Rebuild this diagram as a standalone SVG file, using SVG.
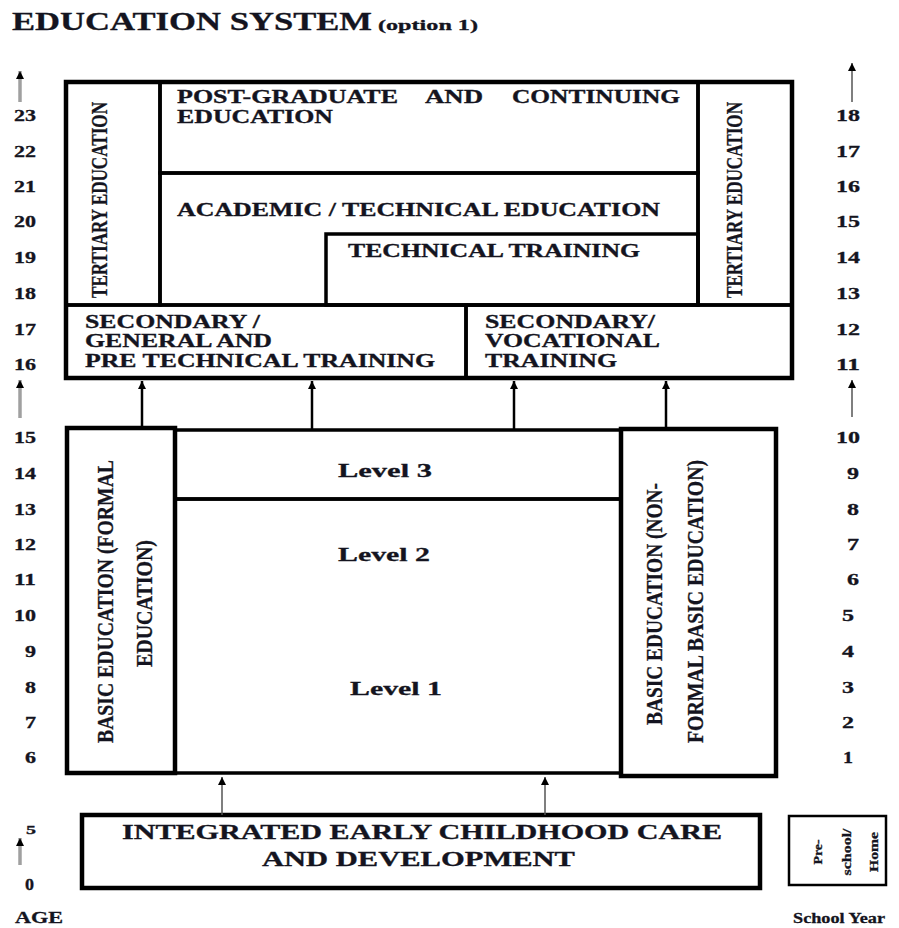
<svg xmlns="http://www.w3.org/2000/svg" width="899" height="928" viewBox="0 0 899 928">
<style>
text{font-family:"Liberation Serif","Times New Roman",serif;font-weight:bold;fill:#141420;stroke:#141420;stroke-width:0.3}
.box{fill:none;stroke:#000;stroke-width:3.5}
.frame{fill:none;stroke:#000;stroke-width:4.5}
.lbl{font-size:18px}
.vt{font-size:23px}
.ax{font-size:16px;text-anchor:end}
.lvl{font-size:19px}
.conn{stroke:#000;stroke-width:2.5;fill:none}
.thin{stroke:#555;stroke-width:1.5;fill:none}
.gray{stroke:#a0a0a0;stroke-width:3.5;fill:none}
</style>
<defs>
<marker id="ah" markerUnits="userSpaceOnUse" markerWidth="10" markerHeight="10" refX="8" refY="4" orient="auto">
<path d="M0,0 L8,4 L0,8 z" fill="#000"/>
</marker>
</defs>
<rect width="899" height="928" fill="#fff"/>

<g id="title">
<text x="12" y="30" font-size="26" textLength="360" lengthAdjust="spacingAndGlyphs">EDUCATION SYSTEM</text>
<text x="378" y="30" font-size="15" textLength="100" lengthAdjust="spacingAndGlyphs">(option 1)</text>
</g>

<g id="tertiary-left">
<rect class="box" x="66" y="82" width="94" height="223"/>
<text class="vt" transform="translate(107,200) rotate(-90)" text-anchor="middle" textLength="196" lengthAdjust="spacingAndGlyphs">TERTIARY EDUCATION</text>
</g>
<g id="postgraduate">
<rect class="box" x="160" y="82" width="538" height="91"/>
<text class="lbl" x="177" y="103" textLength="221" lengthAdjust="spacingAndGlyphs">POST-GRADUATE</text>
<text class="lbl" x="425" y="103" textLength="58" lengthAdjust="spacingAndGlyphs">AND</text>
<text class="lbl" x="512" y="103" textLength="168" lengthAdjust="spacingAndGlyphs">CONTINUING</text>
<text class="lbl" x="177" y="123" textLength="156" lengthAdjust="spacingAndGlyphs">EDUCATION</text>
</g>
<g id="academic">
<rect class="box" x="160" y="173" width="538" height="132"/>
<text class="lbl" x="177" y="216" textLength="483" lengthAdjust="spacingAndGlyphs">ACADEMIC / TECHNICAL EDUCATION</text>
</g>
<g id="technical-training">
<rect class="box" x="326" y="234" width="372" height="71" fill="#fff"/>
<text class="lbl" x="348" y="257" textLength="292" lengthAdjust="spacingAndGlyphs">TECHNICAL TRAINING</text>
</g>
<g id="tertiary-right">
<rect class="box" x="698" y="82" width="94" height="223"/>
<text class="vt" transform="translate(742,200) rotate(-90)" text-anchor="middle" textLength="196" lengthAdjust="spacingAndGlyphs">TERTIARY EDUCATION</text>
</g>
<g id="secondary-general">
<rect class="box" x="66" y="305" width="400" height="73"/>
<text class="lbl" x="85" y="328" textLength="175" lengthAdjust="spacingAndGlyphs">SECONDARY /</text>
<text class="lbl" x="85" y="347" textLength="187" lengthAdjust="spacingAndGlyphs">GENERAL AND</text>
<text class="lbl" x="85" y="367" textLength="350" lengthAdjust="spacingAndGlyphs">PRE TECHNICAL TRAINING</text>
</g>
<g id="secondary-vocational">
<rect class="box" x="466" y="305" width="326" height="73"/>
<text class="lbl" x="485" y="328" textLength="170" lengthAdjust="spacingAndGlyphs">SECONDARY/</text>
<text class="lbl" x="485" y="347" textLength="175" lengthAdjust="spacingAndGlyphs">VOCATIONAL</text>
<text class="lbl" x="485" y="367" textLength="132" lengthAdjust="spacingAndGlyphs">TRAINING</text>
</g>
<rect class="frame" x="66" y="82" width="726" height="296"/>

<g id="basic-formal">
<rect class="frame" x="67" y="428" width="108" height="345"/>
<text class="vt" transform="translate(113,601.5) rotate(-90)" text-anchor="middle" textLength="283" lengthAdjust="spacingAndGlyphs">BASIC EDUCATION (FORMAL</text>
<text class="vt" transform="translate(152,603.5) rotate(-90)" text-anchor="middle" textLength="127" lengthAdjust="spacingAndGlyphs">EDUCATION)</text>
</g>
<g id="level-3">
<rect class="box" x="175" y="430" width="446" height="69"/>
<text class="lvl" x="338" y="477" textLength="94" lengthAdjust="spacingAndGlyphs">Level 3</text>
</g>
<g id="level-1-2">
<rect class="box" x="175" y="499" width="446" height="274"/>
<text class="lvl" x="338" y="561" textLength="92" lengthAdjust="spacingAndGlyphs">Level 2</text>
<text class="lvl" x="350" y="695" textLength="92" lengthAdjust="spacingAndGlyphs">Level 1</text>
</g>
<g id="basic-nonformal">
<rect class="frame" x="621" y="429" width="155" height="347"/>
<text class="vt" transform="translate(662,604) rotate(-90)" text-anchor="middle" textLength="242" lengthAdjust="spacingAndGlyphs">BASIC EDUCATION (NON-</text>
<text class="vt" transform="translate(703,601.5) rotate(-90)" text-anchor="middle" textLength="283" lengthAdjust="spacingAndGlyphs">FORMAL BASIC EDUCATION)</text>
</g>

<g id="eccd">
<rect class="frame" x="82" y="815" width="678" height="73"/>
<text x="122" y="839" font-size="20" textLength="600" lengthAdjust="spacingAndGlyphs">INTEGRATED EARLY CHILDHOOD CARE</text>
<text x="262" y="866" font-size="20" textLength="313" lengthAdjust="spacingAndGlyphs">AND DEVELOPMENT</text>
</g>
<g id="preschool-home">
<rect x="789" y="816" width="97" height="69" fill="none" stroke="#000" stroke-width="2.5"/>
<text transform="translate(822,852) rotate(-90)" font-size="12" text-anchor="middle" textLength="25" lengthAdjust="spacingAndGlyphs">Pre-</text>
<text transform="translate(851,852) rotate(-90)" font-size="12" text-anchor="middle" textLength="47" lengthAdjust="spacingAndGlyphs">school/</text>
<text transform="translate(878,852) rotate(-90)" font-size="12" text-anchor="middle" textLength="40" lengthAdjust="spacingAndGlyphs">Home</text>
</g>

<g id="connectors">
<line class="conn" x1="142" y1="428" x2="142" y2="381" marker-end="url(#ah)"/>
<line class="conn" x1="312" y1="430" x2="312" y2="381" marker-end="url(#ah)"/>
<line class="conn" x1="514" y1="430" x2="514" y2="381" marker-end="url(#ah)"/>
<line class="conn" x1="666" y1="429" x2="666" y2="381" marker-end="url(#ah)"/>
<line class="thin" x1="222" y1="815" x2="222" y2="777" marker-end="url(#ah)"/>
<line class="thin" x1="545" y1="815" x2="545" y2="777" marker-end="url(#ah)"/>
</g>

<g id="age-axis">
<line class="gray" x1="20" y1="102" x2="20" y2="71" marker-end="url(#ah)"/>
<line class="gray" x1="20" y1="418" x2="20" y2="380" marker-end="url(#ah)"/>
<line class="gray" x1="20" y1="865" x2="20" y2="838" marker-end="url(#ah)"/>
<text class="ax" x="36" y="121" textLength="22" lengthAdjust="spacingAndGlyphs">23</text>
<text class="ax" x="36" y="157" textLength="22" lengthAdjust="spacingAndGlyphs">22</text>
<text class="ax" x="36" y="192" textLength="22" lengthAdjust="spacingAndGlyphs">21</text>
<text class="ax" x="36" y="227" textLength="22" lengthAdjust="spacingAndGlyphs">20</text>
<text class="ax" x="36" y="263" textLength="22" lengthAdjust="spacingAndGlyphs">19</text>
<text class="ax" x="36" y="299" textLength="22" lengthAdjust="spacingAndGlyphs">18</text>
<text class="ax" x="36" y="335" textLength="22" lengthAdjust="spacingAndGlyphs">17</text>
<text class="ax" x="36" y="370" textLength="22" lengthAdjust="spacingAndGlyphs">16</text>
<text class="ax" x="36" y="443" textLength="22" lengthAdjust="spacingAndGlyphs">15</text>
<text class="ax" x="36" y="479" textLength="22" lengthAdjust="spacingAndGlyphs">14</text>
<text class="ax" x="36" y="515" textLength="22" lengthAdjust="spacingAndGlyphs">13</text>
<text class="ax" x="36" y="550" textLength="22" lengthAdjust="spacingAndGlyphs">12</text>
<text class="ax" x="36" y="585" textLength="22" lengthAdjust="spacingAndGlyphs">11</text>
<text class="ax" x="36" y="621" textLength="22" lengthAdjust="spacingAndGlyphs">10</text>
<text class="ax" x="36" y="657" textLength="11" lengthAdjust="spacingAndGlyphs">9</text>
<text class="ax" x="36" y="693" textLength="11" lengthAdjust="spacingAndGlyphs">8</text>
<text class="ax" x="36" y="728" textLength="11" lengthAdjust="spacingAndGlyphs">7</text>
<text class="ax" x="36" y="763" textLength="11" lengthAdjust="spacingAndGlyphs">6</text>
<text x="26" y="834" font-size="13" textLength="10" lengthAdjust="spacingAndGlyphs">5</text>
<text class="ax" x="34" y="890" textLength="9" lengthAdjust="spacingAndGlyphs">0</text>
<text x="15" y="923" font-size="16" textLength="48" lengthAdjust="spacingAndGlyphs">AGE</text>
</g>

<g id="school-year-axis">
<line class="thin" x1="852" y1="102" x2="852" y2="63" marker-end="url(#ah)"/>
<line class="thin" x1="852" y1="417" x2="852" y2="380" marker-end="url(#ah)"/>
<text class="ax" x="860" y="121" textLength="24" lengthAdjust="spacingAndGlyphs">18</text>
<text class="ax" x="860" y="157" textLength="24" lengthAdjust="spacingAndGlyphs">17</text>
<text class="ax" x="860" y="192" textLength="24" lengthAdjust="spacingAndGlyphs">16</text>
<text class="ax" x="860" y="227" textLength="24" lengthAdjust="spacingAndGlyphs">15</text>
<text class="ax" x="860" y="263" textLength="24" lengthAdjust="spacingAndGlyphs">14</text>
<text class="ax" x="860" y="299" textLength="24" lengthAdjust="spacingAndGlyphs">13</text>
<text class="ax" x="860" y="335" textLength="24" lengthAdjust="spacingAndGlyphs">12</text>
<text class="ax" x="860" y="370" textLength="24" lengthAdjust="spacingAndGlyphs">11</text>
<text class="ax" x="860" y="443" textLength="24" lengthAdjust="spacingAndGlyphs">10</text>
<text class="ax" x="859" y="479" textLength="12" lengthAdjust="spacingAndGlyphs">9</text>
<text class="ax" x="859" y="515" textLength="12" lengthAdjust="spacingAndGlyphs">8</text>
<text class="ax" x="859" y="550" textLength="12" lengthAdjust="spacingAndGlyphs">7</text>
<text class="ax" x="859" y="585" textLength="12" lengthAdjust="spacingAndGlyphs">6</text>
<text class="ax" x="854" y="621" textLength="12" lengthAdjust="spacingAndGlyphs">5</text>
<text class="ax" x="854" y="657" textLength="12" lengthAdjust="spacingAndGlyphs">4</text>
<text class="ax" x="854" y="693" textLength="12" lengthAdjust="spacingAndGlyphs">3</text>
<text class="ax" x="854" y="728" textLength="12" lengthAdjust="spacingAndGlyphs">2</text>
<text class="ax" x="853" y="763" textLength="10" lengthAdjust="spacingAndGlyphs">1</text>
<text x="793" y="923" font-size="15" textLength="92" lengthAdjust="spacingAndGlyphs">School Year</text>
</g>
</svg>
